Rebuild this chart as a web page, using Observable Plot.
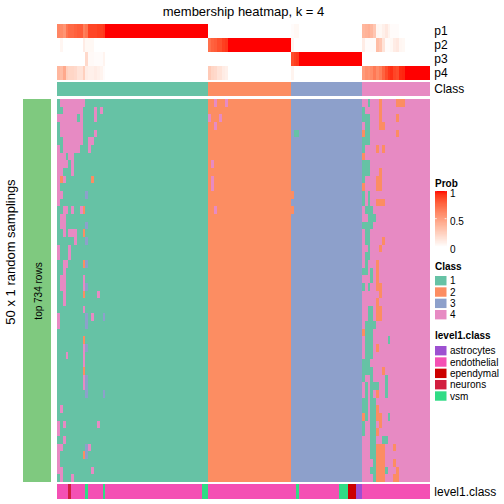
<!DOCTYPE html>
<html><head><meta charset="utf-8">
<script src="https://cdn.jsdelivr.net/npm/d3@7"></script>
<script src="https://cdn.jsdelivr.net/npm/@observablehq/plot@0.6"></script>
<style>
html,body{margin:0;padding:0;background:#fff;}
#chart{position:relative;width:504px;height:504px;overflow:hidden;font-family:"Liberation Sans",Arial,sans-serif;}
#chart svg{position:absolute;left:0;}
</style></head><body><div id="chart"></div>
<script>
// ---------------- data ----------------
const titleText = "membership heatmap, k = 4";
const probNames = ["p1", "p2", "p3", "p4"];
const classNames = ["1", "2", "3", "4"];
const classColors = ["#66C2A5", "#FC8D62", "#8DA0CB", "#E78AC3"];
const levelNames = ["astrocytes", "endothelial", "ependymal", "neurons", "vsm"];
const levelColors = ["#9D50D1", "#F450B4", "#CC0000", "#D21E3F", "#30DC85"];
const probTicks = [0, 0.5, 1];
const nSamplings = 50;
const rowGroupLabel = "top 734 rows";

// membership probabilities per column (131 columns)
const p1 = [0.62,0.6,0.55,0.7,0.75,0.75,0.78,0.8,0.8,0.65,0.7,0.88,0.88,0.88,0.9,0.9,0.92,
 1,1,1,1,1,1,1,1,1,1, 1,1,1,1,1,1,1,1,1,1, 1,1,1,1,1,1,1,1,1,1, 1,1,1,1,1,1,
 0,0,0,0,0,0,0,0,0,0, 0,0,0,0,0,0,0,0,0,0, 0,0,0,0,0,0,0,0,0,
 0.02,0.04,0.04, 0,0,0,0,0,0,0,0,0,0, 0,0,0,0,0,0,0,0,0,0, 0,0,
 0.38,0.4,0.42,0.38,0.3,0.05,0.04,0.08,0.12,0.06,0.02,0.02,0.02, 0,0,0,0,0,0,0,0,0,0,0];
const p2 = [0,0.05,0,0,0,0,0,0,0,0.1,0.04,0.04,0.04,0,0,0,0,
 0,0,0,0,0,0,0,0,0,0, 0,0,0,0,0,0,0,0,0,0, 0,0,0,0,0,0,0,0,0,0, 0,0,0,0,0,0,
 0.72,0.78,0.8,0.85,0.85,0.9,0.92, 1,1,1,1,1,1,1,1,1,1, 1,1,1,1,1,1,1,1,1,1, 1,1,
 0.06, 0,0,0,0,0,0,0,0,0,0, 0,0,0,0,0,0,0,0,0,0, 0,0,0,0,
 0.1,0.02,0.02,0.02,0.02,0.35,0.3,0.15,0.02,0.02,0.04,0.1,0.12,0.05,0.04, 0,0,0,0,0,0,0,0,0];
const p3 = [0,0,0,0,0,0,0,0,0,0,0.2,0.03,0.03,0.02,0.02,0.02,0.06,
 0,0,0,0,0,0,0,0,0,0, 0,0,0,0,0,0,0,0,0,0, 0,0,0,0,0,0,0,0,0,0, 0,0,0,0,0,0,
 0,0,0,0,0,0,0,0,0,0, 0,0,0,0,0,0,0,0,0,0, 0,0,0,0,0,0,0,0,0,
 0.86,0.9,0.92, 1,1,1,1,1,1,1,1,1,1, 1,1,1,1,1,1,1,1,1,1, 1,1,
 0,0,0,0,0,0,0,0,0,0, 0,0,0,0,0,0,0,0,0,0, 0,0,0,0];
const p4 = [0.38,0.35,0.45,0.25,0.22,0.22,0.2,0.15,0.15,0.25,0.1,0.08,0.08,0.1,0.08,0.06,0.02,
 0,0,0,0,0,0,0,0,0,0, 0,0,0,0,0,0,0,0,0,0, 0,0,0,0,0,0,0,0,0,0, 0,0,0,0,0,0,
 0.28,0.22,0.2,0.15,0.15,0.1,0.08, 0,0,0,0,0,0,0,0,0,0, 0,0,0,0,0,0,0,0,0,0, 0,0,
 0.06, 0,0,0,0,0,0,0,0,0,0, 0,0,0,0,0,0,0,0,0,0, 0,0,0,0,
 0.52,0.58,0.56,0.6,0.68,0.6,0.66,0.77,0.86,0.92,0.94,0.88,0.86,0.95,0.96, 1,1,1,1,1,1,1,1,1];

// level1.class per column: default endothelial, with these column ranges
const levelDefault = "endothelial";
const levelRuns = [[4,4,"neurons"],[10,10,"vsm"],[16,16,"vsm"],[51,52,"vsm"],[84,84,"vsm"],
 [99,101,"vsm"],[102,104,"ependymal"],[105,106,"astrocytes"]];

// per-sampling deviations from the column class: [fromCol, toCol, class]
const rowDeviations = [
 [[1,9,4],[55,55,4],[59,59,4],[109,109,1],[113,113,2],[119,121,2]],
 [[2,8,4],[13,13,4],[15,15,4],[107,107,1],[113,113,2]],
 [[0,6,4],[8,8,4],[13,13,4],[53,53,4],[57,57,4],[107,109,1],[113,113,2],[119,119,2]],
 [[1,8,4],[55,55,4],[108,109,1],[113,114,2]],
 [[1,8,4],[13,13,4],[83,84,1],[107,107,2],[108,109,1],[119,119,2]],
 [[2,8,4],[11,12,4],[107,109,1]],
 [[0,0,4],[2,7,4],[11,11,4],[107,107,1],[112,112,2],[114,114,2]],
 [[0,2,4],[4,5,4],[107,107,2]],
 [[0,3,4],[5,5,4],[54,54,4],[107,109,1]],
 [[0,1,4],[5,5,4],[107,109,1],[113,113,2]],
 [[0,0,4],[1,1,2],[2,2,4],[12,12,2],[54,54,4],[107,107,1],[112,113,2]],
 [[0,0,4],[54,54,4],[107,107,2],[112,113,2]],
 [[0,1,4],[10,10,3],[82,82,2],[107,107,1],[109,109,1]],
 [[0,0,4],[107,107,1],[109,109,1],[112,114,2]],
 [[2,3,4],[5,5,4],[8,8,4],[9,9,2],[55,55,4],[82,82,2],[108,110,1]],
 [[1,2,4],[109,111,1]],
 [[1,2,4],[10,10,3],[107,110,1]],
 [[2,2,4],[4,6,4],[9,9,2],[108,109,1]],
 [[6,6,4],[10,10,3],[108,109,1],[114,114,2]],
 [[0,0,4],[4,4,4],[109,109,1],[113,113,2]],
 [[0,0,4],[4,4,4],[108,109,1]],
 [[2,3,4],[9,9,2],[10,10,3],[108,108,1],[112,112,2]],
 [[2,2,4],[107,108,1],[110,110,1],[112,112,2]],
 [[1,2,4],[9,9,4],[110,110,1],[112,112,2]],
 [[1,2,4],[9,9,4],[10,10,3],[107,107,1],[109,109,1],[112,113,2]],
 [[2,2,4],[9,9,2],[14,14,4],[113,113,2]],
 [[2,2,4],[112,112,2]],
 [[9,9,4],[109,110,1],[112,113,2]],
 [[0,0,4],[10,10,3],[12,12,4],[16,16,3],[109,110,1],[112,113,2]],
 [[0,0,4],[10,10,3],[108,111,1]],
 [[107,107,2],[108,110,1]],
 [[9,9,2],[108,110,1],[116,116,1]],
 [[9,9,4],[10,10,3],[108,110,1],[112,112,2]],
 [[3,3,4],[9,9,4],[108,110,1]],
 [[9,9,4],[107,109,1]],
 [[9,9,2],[107,110,1],[114,114,2]],
 [[9,9,4],[10,10,3],[107,107,1],[110,110,1],[115,115,1]],
 [[9,9,4],[10,10,3],[108,108,1],[110,112,1],[115,115,1]],
 [[10,10,3],[16,16,3],[108,108,1],[110,110,1],[112,112,2],[115,115,1]],
 [[107,108,1],[110,111,1]],
 [[1,1,4],[107,108,1],[110,111,1],[112,112,2]],
 [[107,107,2],[108,108,1],[110,111,1],[112,113,2],[116,116,1]],
 [[0,0,4],[2,2,4],[14,14,4],[107,107,1],[110,111,1],[113,113,2]],
 [[0,0,4],[107,107,1],[110,111,1],[112,112,2]],
 [[2,2,4],[110,111,1],[114,115,1]],
 [[0,1,4],[10,10,3],[11,11,4],[110,111,1],[112,114,2],[118,118,2]],
 [[0,0,4],[9,9,2],[10,10,3],[110,111,1],[112,114,2]],
 [[0,0,4],[111,111,1],[112,114,2],[118,118,2]],
 [[0,1,4],[12,12,4],[110,111,1],[112,114,2],[115,115,1],[119,119,2]],
 [[1,1,4],[5,5,4],[111,111,1],[112,114,2],[118,119,2]]
];

// ---------------- derived tables ----------------
const NCOL = p1.length;
const probs = [p1, p2, p3, p4];
const colClass = d3.range(NCOL).map(c => classNames[d3.maxIndex(probs, p => p[c])]);
const probData = probs.flatMap((p, r) => p.map((v, c) => ({r, c, v})));
const classData = colClass.map((k, c) => ({c, k}));
const levelCol = d3.range(NCOL).map(() => levelDefault);
for (const [a, b, name] of levelRuns) for (let c = a; c <= b; c++) levelCol[c] = name;
const levelData = levelCol.map((k, c) => ({c, k}));
const cellData = [];
for (let r = 0; r < nSamplings; r++) {
  const row = colClass.slice();
  for (const [a, b, k] of rowDeviations[r]) for (let c = a; c <= b; c++) row[c] = String(k);
  row.forEach((k, c) => cellData.push({r, c, k}));
}

// ---------------- layout ----------------
const chart = document.getElementById("chart");
const FONT = '"Liberation Sans", Arial, sans-serif';
const X0 = 57, X1 = 430.3, W = 504;
const baseStyle = `background:transparent;overflow:visible;font-family:${FONT};`;

function panel(top, height, opts) {
  const svg = Plot.plot(Object.assign({
    width: W, height, marginLeft: X0, marginRight: W - X1, marginTop: 0, marginBottom: 0,
    x: {domain: [0, NCOL], axis: null},
    style: baseStyle
  }, opts));
  svg.style.top = top + "px";
  chart.append(svg);
  return svg;
}
const rectOpts = (fill) => ({x1: "c", x2: d => d.c + 1, y1: d => d.r ?? 0, y2: d => (d.r ?? 0) + 1, fill, shapeRendering: "crispEdges"});
const sideLabel = (text, yv) => Plot.text([text], {x: () => NCOL, y: () => yv, text: d => d, textAnchor: "start", dx: 3.5, fontSize: 12, fill: "black"});

const probSvg = panel(24, 56, {
  y: {domain: [0, 4], reverse: true, axis: null},
  color: {type: "linear", domain: [0, 1], range: ["white", "red"], interpolate: "lab"},
  marks: [
    Plot.rect(probData, rectOpts("v")),
    ...probNames.map((n, i) => sideLabel(n, i + 0.5))
  ]
});

const classColor = {type: "ordinal", domain: classNames, range: classColors};
panel(81.7, 14.3, {
  y: {domain: [0, 1], reverse: true, axis: null},
  color: classColor,
  marks: [Plot.rect(classData, rectOpts("k")), sideLabel("Class", 0.5)]
});

const mainSvg = panel(98.7, 383, {
  y: {domain: [0, nSamplings], reverse: true, axis: null},
  color: classColor,
  marks: [Plot.rect(cellData, rectOpts("k"))]
});

const levelSvg = panel(484, 15, {
  y: {domain: [0, 1], reverse: true, axis: null},
  color: {type: "ordinal", domain: levelNames, range: levelColors},
  marks: [Plot.rect(levelData, rectOpts("k")), sideLabel("level1.class", 0.5)]
});

// left row-group annotation
const leftSvg = Plot.plot({
  width: W, height: 383, marginLeft: 22.7, marginRight: W - 50.7, marginTop: 0, marginBottom: 0,
  x: {domain: [0, 1], axis: null}, y: {domain: [0, 1], axis: null}, style: baseStyle,
  marks: [
    Plot.rect([0], {x1: 0, x2: 1, y1: 0, y2: 1, fill: "#7FC97F", shapeRendering: "crispEdges"}),
    Plot.text([rowGroupLabel], {x: 0.5, y: 0.5, text: d => d, rotate: -90, fontSize: 10, fill: "black", dx: 1.6})
  ]
});
leftSvg.style.top = "98.7px";
chart.append(leftSvg);

// overlay: title, side title, legends
const probScale = probSvg.scale("color");
const classScale = mainSvg.scale("color");
const levelScale = levelSvg.scale("color");
const ov = d3.select(chart).append("svg").attr("width", W).attr("height", W)
  .style("top", "0px").style("font-family", FONT);
ov.append("text").attr("x", 243.5).attr("y", 15.5).attr("text-anchor", "middle")
  .attr("font-size", 13).text(titleText);
ov.append("text").attr("transform", "translate(15,252) rotate(-90)").attr("text-anchor", "middle")
  .attr("font-size", 13).text(`${nSamplings} x 1 random samplings`);

const LX = 435, BW = 11.5;
// Prob legend
ov.append("text").attr("x", LX).attr("y", 186.8).attr("font-size", 10).attr("font-weight", "bold").text("Prob");
const gy = d3.scaleLinear().domain([0, 1]).range([246.7, 190.7]);
const steps = d3.range(0, 1, 0.01);
ov.append("g").selectAll("rect").data(steps).join("rect")
  .attr("x", LX).attr("width", BW).attr("y", d => gy(d + 0.01)).attr("height", gy(0) - gy(0.01) + 0.3)
  .attr("fill", d => probScale.apply(d + 0.005)).attr("shape-rendering", "crispEdges");
for (const t of probTicks) {
  ov.append("line").attr("x1", LX).attr("x2", LX + 1.8).attr("y1", gy(t)).attr("y2", gy(t)).attr("stroke", "white").attr("stroke-width", 0.8);
  ov.append("line").attr("x1", LX + BW - 1.8).attr("x2", LX + BW).attr("y1", gy(t)).attr("y2", gy(t)).attr("stroke", "white").attr("stroke-width", 0.8);
  ov.append("text").attr("x", 450).attr("y", gy(t) + 2.7).attr("dy", "0.35em").attr("font-size", 10).text(String(t));
}
// box legends
function boxLegend(title, titleY, names, scale, top) {
  ov.append("text").attr("x", LX).attr("y", titleY).attr("font-size", 10).attr("font-weight", "bold").text(title);
  names.forEach((n, i) => {
    const y = top + i * 11.33;
    ov.append("rect").attr("x", LX).attr("y", y).attr("width", BW).attr("height", 9.4).attr("fill", scale.apply(n));
    ov.append("text").attr("x", 450).attr("y", y + 4.7).attr("dy", "0.35em").attr("font-size", 10).text(n);
  });
}
boxLegend("Class", 270.3, classNames, classScale, 276);
boxLegend("level1.class", 339.3, levelNames, levelScale, 346);
</script></body></html>
